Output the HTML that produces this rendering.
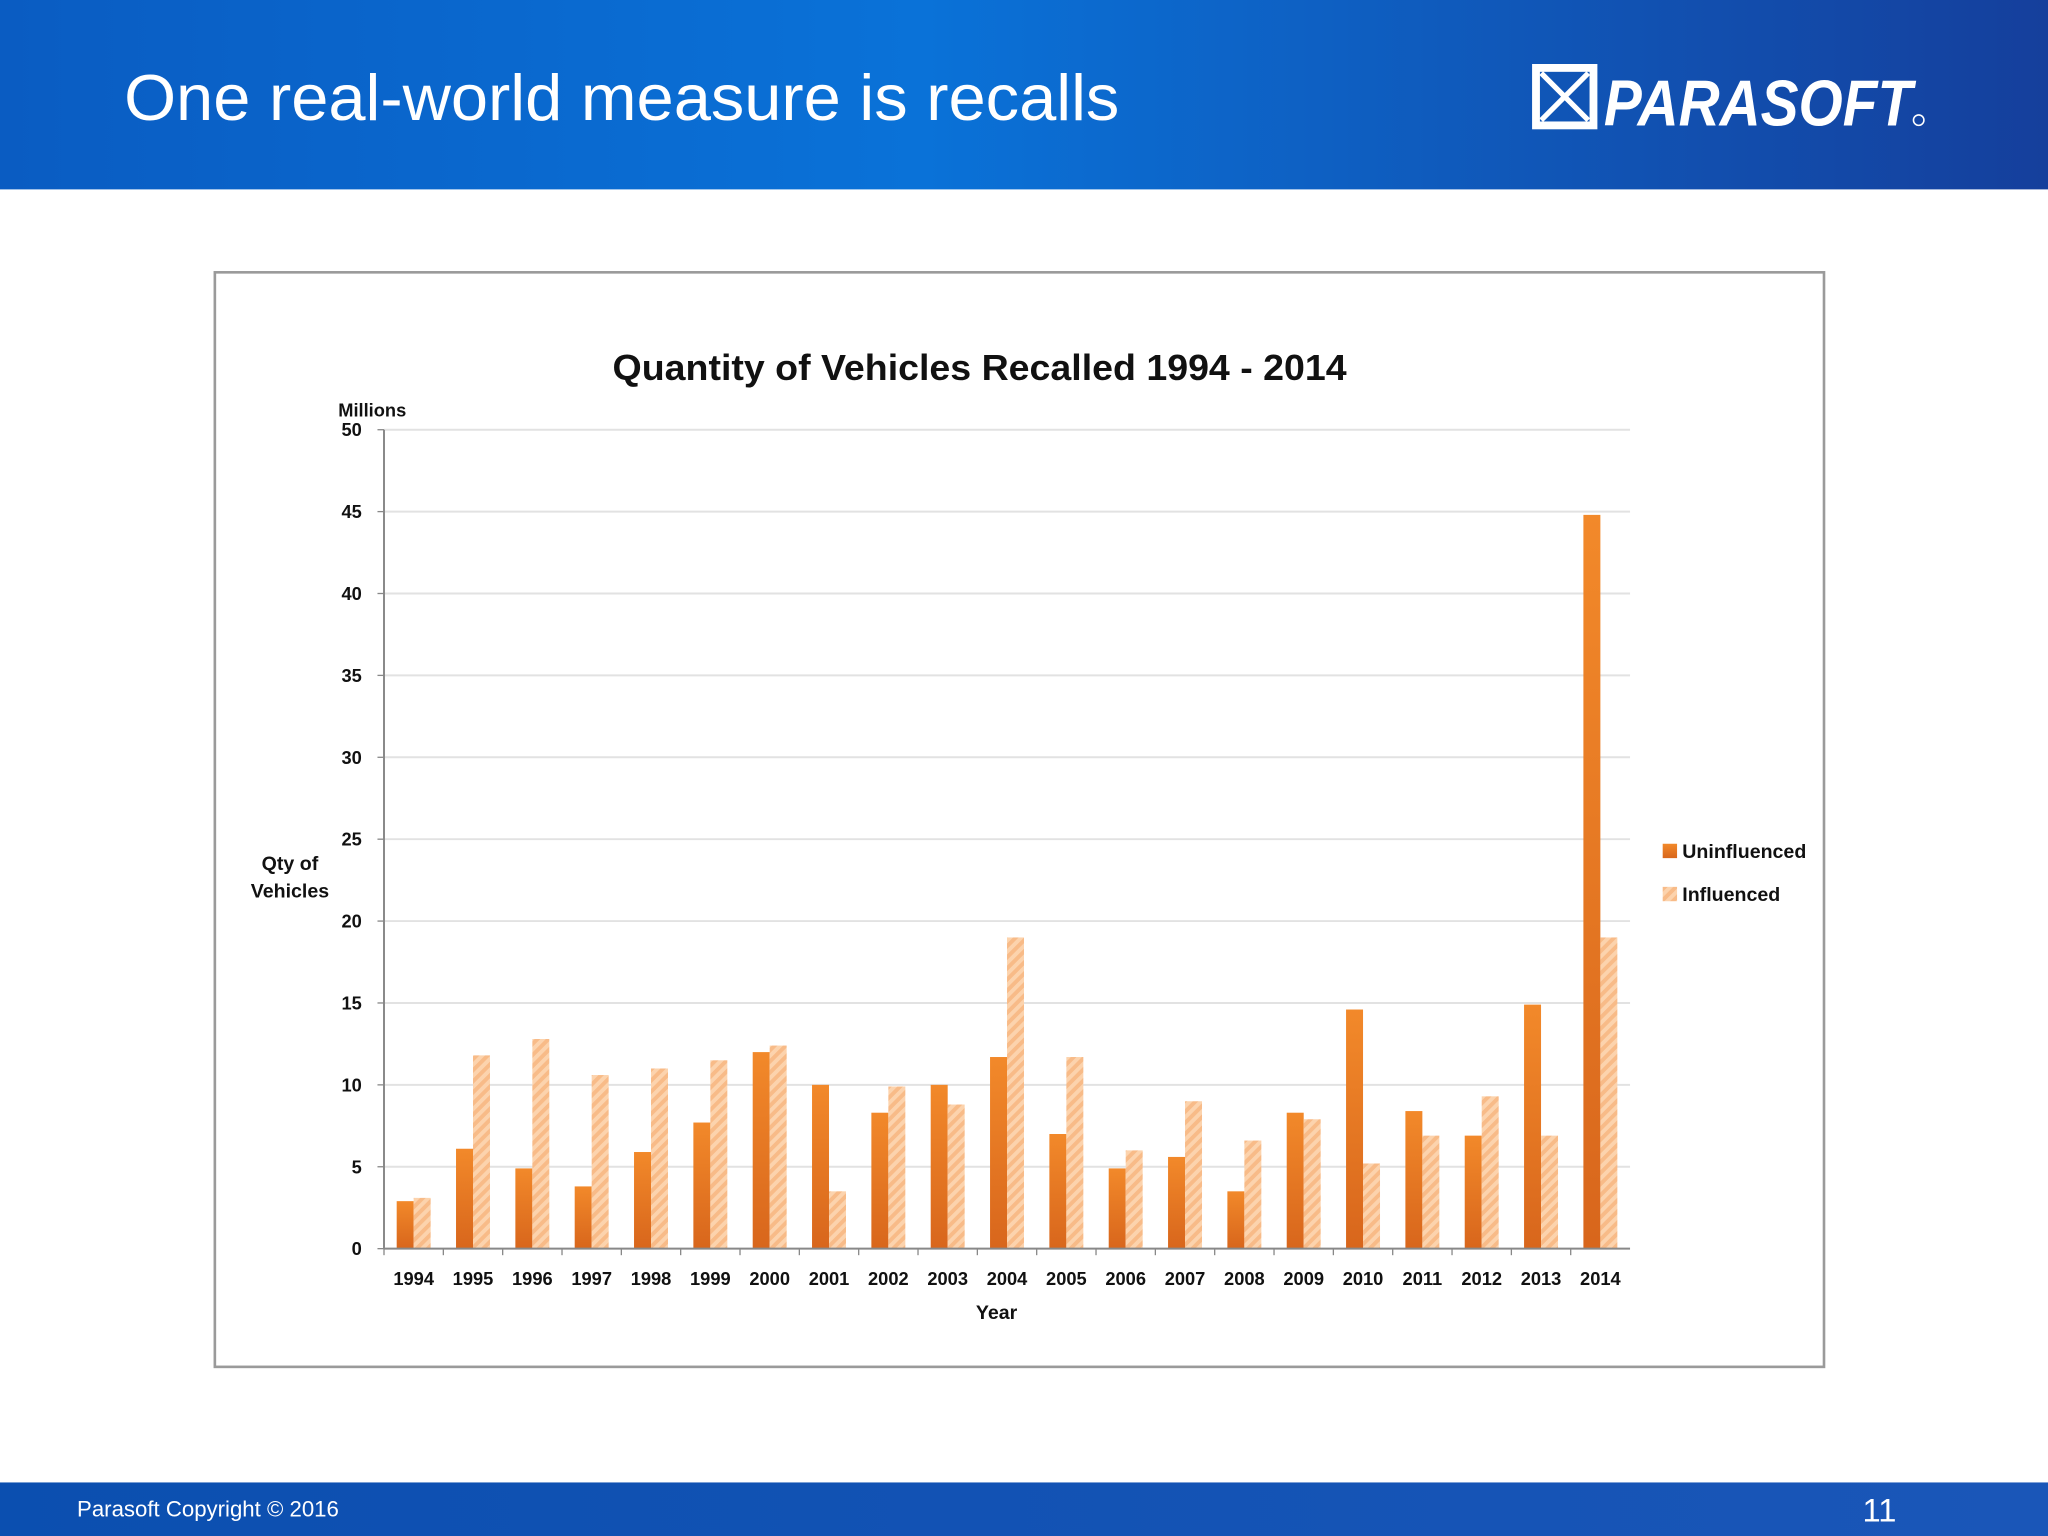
<!DOCTYPE html>
<html><head><meta charset="utf-8"><style>
html,body{margin:0;padding:0;background:#fff}
svg{display:block}
text{font-family:"Liberation Sans",sans-serif}
</style></head><body>
<svg id="s" width="2048" height="1536" viewBox="0 0 1568 1176" xmlns="http://www.w3.org/2000/svg">
<defs>
<linearGradient id="hdr" x1="0" x2="1" y1="0" y2="0"><stop offset="0" stop-color="#0a5cc2"/><stop offset="0.45" stop-color="#0a72d8"/><stop offset="1" stop-color="#153f9c"/></linearGradient>
<linearGradient id="ftr" x1="0" x2="1"><stop offset="0" stop-color="#0b4fb0"/><stop offset="1" stop-color="#1a56b8"/></linearGradient>
<linearGradient id="org" x1="0" x2="0" y1="0" y2="1"><stop offset="0" stop-color="#f2892a"/><stop offset="1" stop-color="#d8661c"/></linearGradient>
<pattern id="hatch" width="6" height="6" patternUnits="userSpaceOnUse" patternTransform="rotate(45)"><rect width="6" height="6" fill="#fcd3ad"/><rect width="3" height="6" fill="#f8bb88"/></pattern>
</defs>
<rect x="0" y="0" width="1568" height="145" fill="url(#hdr)"/>
<text x="95" y="92" font-size="50" fill="#fff" textLength="762" lengthAdjust="spacingAndGlyphs">One real-world measure is recalls</text>
<text x="1228" y="96" font-size="50" fill="#fff" font-weight="bold" font-style="italic" textLength="236" lengthAdjust="spacingAndGlyphs">PARASOFT</text>
<g stroke="#fff" fill="none">
<rect x="1176" y="52" width="44" height="44" stroke-width="6"/>
<path d="M1180 56 L1216 92 M1216 56 L1180 92" stroke-width="4"/>
</g>
<circle cx="1469" cy="92" r="4" fill="none" stroke="#fff" stroke-width="1.2"/>
<rect x="0" y="1135" width="1568" height="41" fill="url(#ftr)"/>
<text x="59" y="1161" font-size="17" fill="#fff">Parasoft Copyright © 2016</text>
<text x="1426" y="1165" font-size="25" fill="#fff">11</text>
<rect x="164.5" y="208.5" width="1232" height="838" fill="#fff" stroke="#9a9a9a" stroke-width="2"/>
<text x="750" y="291" font-size="28" font-weight="bold" text-anchor="middle" fill="#111" textLength="562" lengthAdjust="spacingAndGlyphs">Quantity of Vehicles Recalled 1994 - 2014</text>
<text x="285" y="319" font-size="14" font-weight="bold" text-anchor="middle" fill="#111">Millions</text>
<text x="222" y="666" font-size="15" font-weight="bold" text-anchor="middle" fill="#111"><tspan x="222">Qty of</tspan><tspan x="222" dy="21">Vehicles</tspan></text>
<text x="763" y="1010" font-size="15" font-weight="bold" text-anchor="middle" fill="#111">Year</text>
<g id="plot"></g>
<rect x="1273" y="646" width="11" height="11" fill="url(#org)"/>
<text x="1288" y="657" font-size="15" font-weight="bold" fill="#111">Uninfluenced</text>
<rect x="1273" y="679" width="11" height="11" fill="url(#hatch)"/>
<text x="1288" y="690" font-size="15" font-weight="bold" fill="#111">Influenced</text>
</svg>
<script>
const years=["1994","1995","1996","1997","1998","1999","2000","2001","2002","2003","2004","2005","2006","2007","2008","2009","2010","2011","2012","2013","2014"];
const uninfluenced=[2.9,6.1,4.9,3.8,5.9,7.7,12.0,10.0,8.3,10.0,11.7,7.0,4.9,5.6,3.5,8.3,14.6,8.4,6.9,14.9,44.8];
const influenced=[3.1,11.8,12.8,10.6,11.0,11.5,12.4,3.5,9.9,8.8,19.0,11.7,6.0,9.0,6.6,7.9,5.2,6.9,9.3,6.9,19.0];
const yTicks=[0,5,10,15,20,25,30,35,40,45,50];
const NS="http://www.w3.org/2000/svg";
const g=document.getElementById('plot');
const X0=294,X1=1248,Y0=956,Y1=329,YMAX=50;
const y=v=>Y0-(v/YMAX)*(Y0-Y1);
const step=(X1-X0)/years.length;
const x=i=>X0+i*step;
function mk(t,a){const e=document.createElementNS(NS,t);for(const k in a)e.setAttribute(k,a[k]);g.appendChild(e);return e;}
yTicks.forEach(t=>{
  if(t>0){const l=mk('line',{x1:X0,x2:X1,y1:y(t),y2:y(t),stroke:'#e2e2e2','stroke-width':1.5});
  
  }
  mk('line',{x1:X0-5,x2:X0,y1:y(t),y2:y(t),stroke:'#888'});
  const tx=mk('text',{x:277,y:y(t)+5,'font-size':14,'font-weight':'bold','text-anchor':'end',fill:'#111'});
  tx.textContent=t;
  
  
});
years.forEach((yr,i)=>{
  const bw=13,c=x(i)+step/2;
  const b1=mk('rect',{x:c-bw,y:y(uninfluenced[i]),width:bw,height:Y0-y(uninfluenced[i]),fill:'url(#org)'});
  
  
  const b2=mk('rect',{x:c,y:y(influenced[i]),width:bw,height:Y0-y(influenced[i]),fill:'url(#hatch)'});
  
  
  mk('line',{x1:x(i),x2:x(i),y1:Y0,y2:Y0+5,stroke:'#888'});
  const tx=mk('text',{x:c,y:984,'font-size':14,'font-weight':'bold','text-anchor':'middle',fill:'#111'});
  tx.textContent=yr;
  
  
});
const ax=mk('line',{x1:X0,x2:X0,y1:Y1,y2:Y0,stroke:'#888','stroke-width':1.5});


const bx=mk('line',{x1:X0,x2:X1,y1:Y0,y2:Y0,stroke:'#888','stroke-width':1.5});


</script>
</body></html>
